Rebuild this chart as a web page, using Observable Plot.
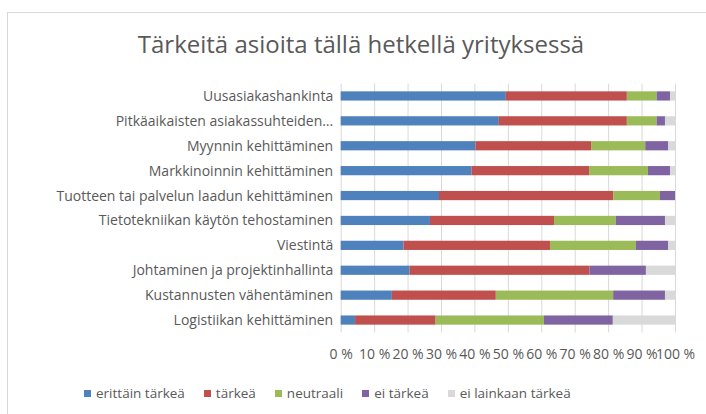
<!DOCTYPE html>
<html>
<head>
<meta charset="utf-8">
<script src="https://cdn.jsdelivr.net/npm/d3@7"></script>
<script src="https://cdn.jsdelivr.net/npm/@observablehq/plot@0.6"></script>
<style>
  html, body { margin: 0; padding: 0; background: #fff; }
  body { width: 706px; height: 414px; position: relative; overflow: hidden; font-family: "Open Sans", sans-serif; }
  #frame { position: absolute; left: 7px; top: 12px; width: 720px; height: 420px; border-left: 1px solid #d9d9d9; border-top: 1px solid #d9d9d9; }
  #title { position: absolute; left: 0; top: 27px; width: 722px; text-align: center; font-size: 24px; color: #595959; white-space: nowrap; line-height: 34px; }
  #chart { position: absolute; left: 0; top: 70px; }
  #legend { position: absolute; left: 84px; top: 383px; display: flex; gap: 19px; font-size: 13.5px; color: #595959; white-space: nowrap; line-height: 20px; }
  #legend .item { display: flex; align-items: center; gap: 5px; }
  #legend .sw { width: 7px; height: 7px; display: inline-block; }
</style>
</head>
<body>
<div id="frame"></div>
<div id="title">Tärkeitä asioita tällä hetkellä yrityksessä</div>
<div id="chart"></div>
<div id="legend"></div>
<script>
const categories = [
  "Uusasiakashankinta",
  "Pitkäaikaisten asiakassuhteiden…",
  "Myynnin kehittäminen",
  "Markkinoinnin kehittäminen",
  "Tuotteen tai palvelun laadun kehittäminen",
  "Tietotekniikan käytön tehostaminen",
  "Viestintä",
  "Johtaminen ja projektinhallinta",
  "Kustannusten vähentäminen",
  "Logistiikan kehittäminen"
];
const seriesNames = ["erittäin tärkeä", "tärkeä", "neutraali", "ei tärkeä", "ei lainkaan tärkeä"];
const colors = ["#4F81BD", "#C0504D", "#9BBB59", "#8064A2", "#D9D9D9"];
// percentages per category, in series order
const erittainTarkea = [49.4, 47.3, 40.3, 39.1, 29.4, 26.7, 18.8, 20.6, 15.3, 4.3];
const tarkea         = [36.2, 38.3, 34.6, 35.2, 52.1, 37.1, 43.8, 53.8, 31.1, 24.1];
const neutraali      = [ 8.9,  8.9, 16.2, 17.6, 14.0, 18.5, 25.7,  0.0, 35.1, 32.4];
const eiTarkea       = [ 4.0,  2.5,  6.9,  6.6,  4.5, 14.7,  9.7, 16.9, 15.5, 20.6];
const eiLainkaan     = [ 1.5,  3.0,  2.0,  1.5,  0.0,  3.0,  2.0,  8.7,  3.0, 18.6];
const xTicks = [0, 10, 20, 30, 40, 50, 60, 70, 80, 90, 100];

const seriesValues = [erittainTarkea, tarkea, neutraali, eiTarkea, eiLainkaan];
const data = [];
categories.forEach((c, i) => {
  seriesValues.forEach((vals, s) => {
    data.push({category: c, series: seriesNames[s], value: vals[i]});
  });
});

const plot = Plot.plot({
  width: 706,
  height: 300,
  marginTop: 13.5,
  marginBottom: 37.5,
  marginLeft: 340.7,
  marginRight: 31,
  style: {fontFamily: "'Open Sans', sans-serif", fontSize: "14px", color: "#595959", background: "transparent"},
  x: {domain: [0, 100], ticks: xTicks, tickFormat: d => d + " %", label: null, grid: false, tickSize: 0, tickPadding: 16},
  y: {domain: categories, label: null, tickSize: 0, tickPadding: 8, paddingInner: 0.63, paddingOuter: 0.315, round: false},
  color: {domain: seriesNames, range: colors},
  marks: [
    Plot.ruleX(xTicks, {stroke: "#d9d9d9", strokeWidth: 1, strokeOpacity: 1}),
    Plot.barX(data, Plot.stackX({x: "value", y: "category", fill: "series", order: seriesNames})),
    Plot.axisX({ticks: xTicks, tickFormat: d => d + " %", tickSize: 0, tickPadding: 16, fill: "#595959", label: null}),
    Plot.axisY({tickSize: 0, tickPadding: 8, fill: "#595959", label: null})
  ]
});
document.getElementById("chart").appendChild(plot);

const legend = document.getElementById("legend");
seriesNames.forEach((n, i) => {
  const item = document.createElement("div");
  item.className = "item";
  const sw = document.createElement("span");
  sw.className = "sw";
  sw.style.background = colors[i];
  const t = document.createElement("span");
  t.textContent = n;
  item.appendChild(sw);
  item.appendChild(t);
  legend.appendChild(item);
});
</script>
</body>
</html>
